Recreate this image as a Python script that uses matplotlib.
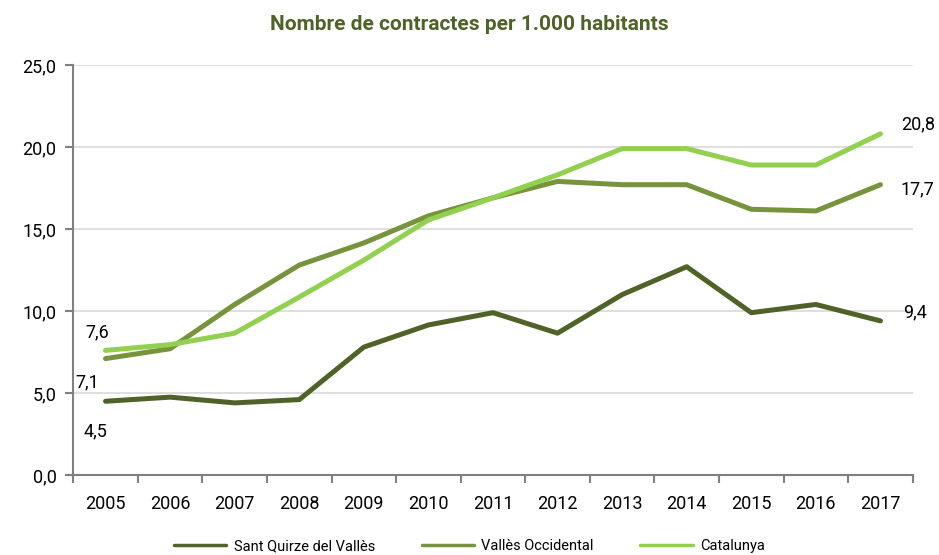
import numpy as np
import matplotlib
matplotlib.use('Agg')
import matplotlib.pyplot as plt

plt.rcParams['font.family'] = ['Roboto', 'DejaVu Sans']

years = ['2005', '2006', '2007', '2008', '2009', '2010', '2011',
         '2012', '2013', '2014', '2015', '2016', '2017']
sant_quirze = [4.5, 4.75, 4.4, 4.6, 7.8, 9.15, 9.9, 8.65, 11.0, 12.7, 9.9, 10.4, 9.4]
valles_occ = [7.1, 7.7, 10.4, 12.8, 14.15, 15.8, 16.9, 17.9, 17.7, 17.7, 16.2, 16.1, 17.7]
catalunya = [7.6, 7.95, 8.65, 10.85, 13.1, 15.55, 16.9, 18.3, 19.9, 19.9, 18.9, 18.9, 20.8]

names = ['Sant Quirze del Vallès', 'Vallès Occidental', 'Catalunya']
colors = ['#4F6228', '#77933C', '#92D050']

fig = plt.figure(figsize=(9.39, 5.55), dpi=100)
ax = fig.add_axes([0.078, 0.144, 0.894, 0.739])

x = np.arange(len(years))
series = [sant_quirze, valles_occ, catalunya]
for s, c, n in zip(series, colors, names):
    ax.plot(x, s, color=c, lw=3.6, solid_capstyle='round', label=n)

def fmt(v):
    return ('%.1f' % v).replace('.', ',')

# value labels at first and last point (offsets in pixels)
first_off = [(-10, -30), (-18, -24), (-8, 18)]
last_off = [(35, 9), (37, -5), (38, 9)]
for s, fo, lo in zip(series, first_off, last_off):
    ax.annotate(fmt(s[0]), (x[0], s[0]), xytext=fo, textcoords='offset pixels',
                ha='center', va='center', fontsize=13)
    ax.annotate(fmt(s[-1]), (x[-1], s[-1]), xytext=lo, textcoords='offset pixels',
                ha='center', va='center', fontsize=13)

ax.set_xlim(-0.5, len(years) - 0.5)
ax.set_ylim(0, 25)
ax.set_yticks(np.arange(0, 26, 5))
ax.set_yticklabels([fmt(v) for v in np.arange(0, 26, 5)], fontsize=13)
ax.set_xticks(x)
ax.set_xticklabels(years, fontsize=13)
ax.tick_params(axis='x', length=0, pad=14)
ax.set_xticks(np.arange(-0.5, len(years)), minor=True)
ax.tick_params(axis='x', which='minor', length=6, color='#808080', width=1.5)
ax.tick_params(axis='y', length=6, color='#808080', width=1.5, pad=6)
ax.grid(axis='y', color='#D9D9D9', lw=1.2)
ax.set_axisbelow(True)
for sp in ['top', 'right']:
    ax.spines[sp].set_visible(False)
for sp in ['left', 'bottom']:
    ax.spines[sp].set_color('#808080')
    ax.spines[sp].set_linewidth(1.5)

fig.text(0.5, 0.955, 'Nombre de contractes per 1.000 habitants', ha='center',
         va='center', fontsize=15, fontweight='bold', color='#4F6228')

fig.legend(loc='center', bbox_to_anchor=(0.5, 0.016), ncol=3, frameon=False,
           fontsize=10.5, handlelength=3.6, columnspacing=3.2, handletextpad=0.5)
for line in fig.legends[0].get_lines():
    line.set_linewidth(2.5)

fig.savefig('out.png', dpi=100)
